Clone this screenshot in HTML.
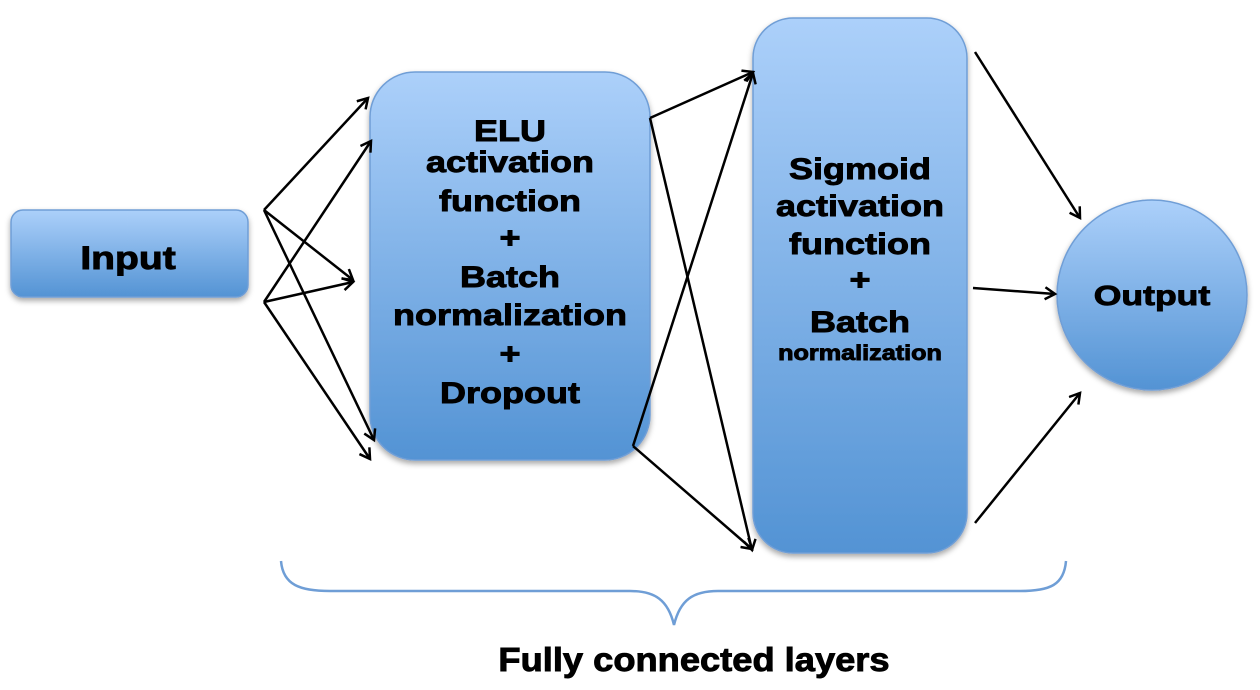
<!DOCTYPE html>
<html><head><style>
html,body{margin:0;padding:0;background:#fff;width:1260px;height:690px;overflow:hidden}
text{font-family:"Liberation Sans",sans-serif;font-weight:bold;fill:#000;stroke:#000;stroke-width:0.9}
</style></head><body>
<svg width="1260" height="690" viewBox="0 0 1260 690" xmlns="http://www.w3.org/2000/svg">
<defs>
<linearGradient id="g" x1="0" y1="0" x2="0" y2="1">
<stop offset="0" stop-color="#acd0fa"/><stop offset="1" stop-color="#5393d4"/>
</linearGradient>
<filter id="sh" x="-10%" y="-10%" width="120%" height="125%">
<feDropShadow dx="0" dy="3" stdDeviation="3" flood-color="#000" flood-opacity="0.35"/>
</filter>
<marker id="a" markerWidth="14" markerHeight="14" refX="11" refY="7" orient="auto" markerUnits="userSpaceOnUse">
<path d="M1,1 L11,7 L1,13" fill="none" stroke="#000" stroke-width="2.5"/>
</marker>
</defs>
<g stroke="#6f9ed6" stroke-width="1.5" fill="url(#g)" filter="url(#sh)">
<rect x="11" y="210" width="237" height="87" rx="12"/>
<rect x="370" y="72" width="280" height="388" rx="45"/>
<rect x="753" y="18" width="214" height="535" rx="40"/>
<circle cx="1152" cy="295" r="95"/>
</g>
<g stroke="#000" stroke-width="2.5" fill="none" marker-end="url(#a)">
<line x1="264" y1="210" x2="368" y2="98"/>
<line x1="264" y1="210" x2="353" y2="280"/>
<line x1="264" y1="210" x2="374" y2="440"/>
<line x1="264" y1="302" x2="371" y2="141"/>
<line x1="264" y1="302" x2="353" y2="282"/>
<line x1="264" y1="302" x2="370" y2="459"/>
<line x1="650" y1="118" x2="753" y2="72"/>
<line x1="650" y1="118" x2="752" y2="550"/>
<line x1="633" y1="446" x2="753" y2="73"/>
<line x1="633" y1="446" x2="752" y2="549"/>
<line x1="975" y1="52" x2="1080" y2="218"/>
<line x1="973" y1="288" x2="1055" y2="294"/>
<line x1="975" y1="523" x2="1080" y2="393"/>
</g>
<path d="M281,561 C283,585 300,591 330,591 L630,591 C655,591 668,600 674,625 C680,600 693,591 718,591 L1020,591 C1050,591 1064,585 1066,561" fill="none" stroke="#6f9ed6" stroke-width="2.5"/>
<g text-anchor="middle" font-size="30">
<g transform="translate(128,0) scale(1.22,1)"><text x="0" y="269" font-size="32">Input</text></g>
<g transform="translate(510,0) scale(1.2,1)">
<text x="0" y="141">ELU</text>
<text x="0" y="172">activation</text>
<text x="0" y="211">function</text>
<text x="0" y="248">+</text>
<text x="0" y="287">Batch</text>
<text x="0" y="325">normalization</text>
<text x="0" y="364">+</text>
<text x="0" y="403">Dropout</text>
</g>
<g transform="translate(860,0) scale(1.2,1)">
<text x="0" y="179">Sigmoid</text>
<text x="0" y="216">activation</text>
<text x="0" y="254">function</text>
<text x="0" y="290">+</text>
<text x="0" y="332">Batch</text>
<text x="0" y="360" font-size="21">normalization</text>
</g>
<g transform="translate(1152,0) scale(1.27,1)"><text x="0" y="305" font-size="28">Output</text></g>
<g transform="translate(694,0) scale(1.1,1)"><text x="0" y="671" font-size="33">Fully connected layers</text></g>
</g>
</svg>
</body></html>
